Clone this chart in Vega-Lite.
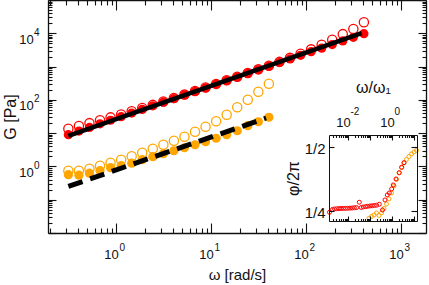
{
  "$schema": "https://vega.github.io/schema/vega-lite/v6.json",
  "width": 378,
  "height": 233,
  "autosize": {"type": "none"},
  "padding": {"left": 48, "top": 0, "right": 3, "bottom": 52},
  "background": "white",
  "config": {
    "view": {"stroke": null},
    "font": "Liberation Sans",
    "text": {"font": "Liberation Sans", "color": "#111"},
    "axis": {"grid": false, "domainColor": "#111", "tickColor": "#111", "labelColor": "#111", "titleColor": "#111", "titleFontWeight": "normal", "labelFont": "Liberation Sans", "titleFont": "Liberation Sans", "domainWidth": 1.3, "tickWidth": 1.1, "labelOverlap": false, "labelFlush": false, "minExtent": 0}
  },
  "datasets": {
    "main": [
      {"w": 0.315, "G": 8.99, "sample": "A", "mod": "storage"},
      {"w": 0.4068, "G": 11.54, "sample": "A", "mod": "storage"},
      {"w": 0.5254, "G": 14.82, "sample": "A", "mod": "storage"},
      {"w": 0.6786, "G": 19.01, "sample": "A", "mod": "storage"},
      {"w": 0.8764, "G": 24.4, "sample": "A", "mod": "storage"},
      {"w": 1.132, "G": 31.3, "sample": "A", "mod": "storage"},
      {"w": 1.462, "G": 40.2, "sample": "A", "mod": "storage"},
      {"w": 1.888, "G": 51.6, "sample": "A", "mod": "storage"},
      {"w": 2.438, "G": 66.2, "sample": "A", "mod": "storage"},
      {"w": 3.15, "G": 84.9, "sample": "A", "mod": "storage"},
      {"w": 4.068, "G": 109, "sample": "A", "mod": "storage"},
      {"w": 5.254, "G": 139.8, "sample": "A", "mod": "storage"},
      {"w": 6.786, "G": 179.5, "sample": "A", "mod": "storage"},
      {"w": 8.764, "G": 230.3, "sample": "A", "mod": "storage"},
      {"w": 11.32, "G": 295.6, "sample": "A", "mod": "storage"},
      {"w": 14.62, "G": 379.3, "sample": "A", "mod": "storage"},
      {"w": 18.88, "G": 486.8, "sample": "A", "mod": "storage"},
      {"w": 24.38, "G": 624.8, "sample": "A", "mod": "storage"},
      {"w": 31.5, "G": 801.7, "sample": "A", "mod": "storage"},
      {"w": 40.68, "G": 1029, "sample": "A", "mod": "storage"},
      {"w": 52.54, "G": 1320, "sample": "A", "mod": "storage"},
      {"w": 67.86, "G": 1694, "sample": "A", "mod": "storage"},
      {"w": 87.64, "G": 2175, "sample": "A", "mod": "storage"},
      {"w": 113.2, "G": 2791, "sample": "A", "mod": "storage"},
      {"w": 146.2, "G": 3581, "sample": "A", "mod": "storage"},
      {"w": 188.8, "G": 4596, "sample": "A", "mod": "storage"},
      {"w": 243.8, "G": 5898, "sample": "A", "mod": "storage"},
      {"w": 315, "G": 7568, "sample": "A", "mod": "storage"},
      {"w": 406.8, "G": 9712, "sample": "A", "mod": "storage"},
      {"w": 0.315, "G": 13.5, "sample": "A", "mod": "loss"},
      {"w": 0.4068, "G": 16.4, "sample": "A", "mod": "loss"},
      {"w": 0.5254, "G": 20.0, "sample": "A", "mod": "loss"},
      {"w": 0.6786, "G": 24.3, "sample": "A", "mod": "loss"},
      {"w": 0.8764, "G": 29.8, "sample": "A", "mod": "loss"},
      {"w": 1.132, "G": 36.6, "sample": "A", "mod": "loss"},
      {"w": 1.462, "G": 45.4, "sample": "A", "mod": "loss"},
      {"w": 1.888, "G": 56.7, "sample": "A", "mod": "loss"},
      {"w": 2.438, "G": 70.8, "sample": "A", "mod": "loss"},
      {"w": 3.15, "G": 89.2, "sample": "A", "mod": "loss"},
      {"w": 4.068, "G": 113.4, "sample": "A", "mod": "loss"},
      {"w": 5.254, "G": 144, "sample": "A", "mod": "loss"},
      {"w": 6.786, "G": 184.9, "sample": "A", "mod": "loss"},
      {"w": 8.764, "G": 234.9, "sample": "A", "mod": "loss"},
      {"w": 11.32, "G": 301.5, "sample": "A", "mod": "loss"},
      {"w": 14.62, "G": 386.9, "sample": "A", "mod": "loss"},
      {"w": 18.88, "G": 496.5, "sample": "A", "mod": "loss"},
      {"w": 24.38, "G": 637.3, "sample": "A", "mod": "loss"},
      {"w": 31.5, "G": 825.8, "sample": "A", "mod": "loss"},
      {"w": 40.68, "G": 1060, "sample": "A", "mod": "loss"},
      {"w": 52.54, "G": 1386, "sample": "A", "mod": "loss"},
      {"w": 67.86, "G": 1830, "sample": "A", "mod": "loss"},
      {"w": 87.64, "G": 2436, "sample": "A", "mod": "loss"},
      {"w": 113.2, "G": 3293, "sample": "A", "mod": "loss"},
      {"w": 146.2, "G": 4512, "sample": "A", "mod": "loss"},
      {"w": 188.8, "G": 6388, "sample": "A", "mod": "loss"},
      {"w": 243.8, "G": 9437, "sample": "A", "mod": "loss"},
      {"w": 315, "G": 13395, "sample": "A", "mod": "loss"},
      {"w": 406.8, "G": 21366, "sample": "A", "mod": "loss"},
      {"w": 0.315, "G": 0.563, "sample": "B", "mod": "storage"},
      {"w": 0.4068, "G": 0.544, "sample": "B", "mod": "storage"},
      {"w": 0.5254, "G": 0.625, "sample": "B", "mod": "storage"},
      {"w": 0.6786, "G": 0.743, "sample": "B", "mod": "storage"},
      {"w": 0.8764, "G": 0.914, "sample": "B", "mod": "storage"},
      {"w": 1.132, "G": 1.05, "sample": "B", "mod": "storage"},
      {"w": 1.462, "G": 1.25, "sample": "B", "mod": "storage"},
      {"w": 1.888, "G": 1.59, "sample": "B", "mod": "storage"},
      {"w": 2.438, "G": 1.96, "sample": "B", "mod": "storage"},
      {"w": 3.15, "G": 2.41, "sample": "B", "mod": "storage"},
      {"w": 4.068, "G": 2.96, "sample": "B", "mod": "storage"},
      {"w": 5.254, "G": 3.64, "sample": "B", "mod": "storage"},
      {"w": 6.786, "G": 4.48, "sample": "B", "mod": "storage"},
      {"w": 8.764, "G": 5.52, "sample": "B", "mod": "storage"},
      {"w": 11.32, "G": 7.03, "sample": "B", "mod": "storage"},
      {"w": 14.62, "G": 8.95, "sample": "B", "mod": "storage"},
      {"w": 18.88, "G": 11.8, "sample": "B", "mod": "storage"},
      {"w": 24.38, "G": 16.7, "sample": "B", "mod": "storage"},
      {"w": 31.5, "G": 22.0, "sample": "B", "mod": "storage"},
      {"w": 40.68, "G": 30.0, "sample": "B", "mod": "storage"},
      {"w": 0.315, "G": 0.743, "sample": "B", "mod": "loss"},
      {"w": 0.4068, "G": 0.743, "sample": "B", "mod": "loss"},
      {"w": 0.5254, "G": 0.853, "sample": "B", "mod": "loss"},
      {"w": 0.6786, "G": 1.05, "sample": "B", "mod": "loss"},
      {"w": 0.8764, "G": 1.29, "sample": "B", "mod": "loss"},
      {"w": 1.132, "G": 1.59, "sample": "B", "mod": "loss"},
      {"w": 1.462, "G": 2.02, "sample": "B", "mod": "loss"},
      {"w": 1.888, "G": 2.58, "sample": "B", "mod": "loss"},
      {"w": 2.438, "G": 3.4, "sample": "B", "mod": "loss"},
      {"w": 3.15, "G": 4.48, "sample": "B", "mod": "loss"},
      {"w": 4.068, "G": 5.91, "sample": "B", "mod": "loss"},
      {"w": 5.254, "G": 7.8, "sample": "B", "mod": "loss"},
      {"w": 6.786, "G": 11.0, "sample": "B", "mod": "loss"},
      {"w": 8.764, "G": 15.6, "sample": "B", "mod": "loss"},
      {"w": 11.32, "G": 22.8, "sample": "B", "mod": "loss"},
      {"w": 14.62, "G": 35.7, "sample": "B", "mod": "loss"},
      {"w": 18.88, "G": 59.9, "sample": "B", "mod": "loss"},
      {"w": 24.38, "G": 100.7, "sample": "B", "mod": "loss"},
      {"w": 31.5, "G": 175, "sample": "B", "mod": "loss"},
      {"w": 40.68, "G": 304, "sample": "B", "mod": "loss"}
    ],
    "fitA": [{"w": 0.315, "G": 8.3}, {"w": 385, "G": 10150}],
    "fitB": [{"w": 0.315, "G": 0.25}, {"w": 38, "G": 28.5}],
    "xexp": [{"w": 1, "e": "0"}, {"w": 10, "e": "1"}, {"w": 100, "e": "2"}, {"w": 1000, "e": "3"}],
    "yexp": [{"G": 1, "e": "0"}, {"G": 100, "e": "2"}, {"G": 10000, "e": "4"}],
    "rexp": [{"r": 0.01, "e": "-2"}, {"r": 1, "e": "0"}],
    "inset": [
      {"r": 0.00144, "phi": 0.245, "sample": "A"},
      {"r": 0.00197, "phi": 0.2558, "sample": "A"},
      {"r": 0.00243, "phi": 0.2578, "sample": "A"},
      {"r": 0.00306, "phi": 0.2586, "sample": "A"},
      {"r": 0.0039, "phi": 0.2593, "sample": "A"},
      {"r": 0.00481, "phi": 0.2597, "sample": "A"},
      {"r": 0.00611, "phi": 0.2601, "sample": "A"},
      {"r": 0.00769, "phi": 0.2601, "sample": "A"},
      {"r": 0.00969, "phi": 0.2605, "sample": "A"},
      {"r": 0.01233, "phi": 0.2609, "sample": "A"},
      {"r": 0.01552, "phi": 0.2617, "sample": "A"},
      {"r": 0.01954, "phi": 0.2625, "sample": "A"},
      {"r": 0.0246, "phi": 0.2632, "sample": "A"},
      {"r": 0.0327, "phi": 0.2839, "sample": "A"},
      {"r": 0.0403, "phi": 0.2636, "sample": "A"},
      {"r": 0.0496, "phi": 0.2656, "sample": "A"},
      {"r": 0.0638, "phi": 0.2671, "sample": "A"},
      {"r": 0.0786, "phi": 0.2683, "sample": "A"},
      {"r": 0.1, "phi": 0.2695, "sample": "A"},
      {"r": 0.126, "phi": 0.2702, "sample": "A"},
      {"r": 0.158, "phi": 0.2714, "sample": "A"},
      {"r": 0.2, "phi": 0.2722, "sample": "A"},
      {"r": 0.265, "phi": 0.2761, "sample": "A"},
      {"r": 0.37, "phi": 0.2539, "sample": "A"},
      {"r": 0.481, "phi": 0.2928, "sample": "A"},
      {"r": 0.611, "phi": 0.3123, "sample": "A"},
      {"r": 0.754, "phi": 0.32, "sample": "A"},
      {"r": 0.968, "phi": 0.3356, "sample": "A"},
      {"r": 1.146, "phi": 0.3512, "sample": "A"},
      {"r": 1.52, "phi": 0.3745, "sample": "A"},
      {"r": 2.15, "phi": 0.399, "sample": "A"},
      {"r": 2.76, "phi": 0.42, "sample": "A"},
      {"r": 3.51, "phi": 0.4379, "sample": "A"},
      {"r": 0.0901, "phi": 0.2216, "sample": "B"},
      {"r": 0.117, "phi": 0.2286, "sample": "B"},
      {"r": 0.152, "phi": 0.2344, "sample": "B"},
      {"r": 0.197, "phi": 0.2422, "sample": "B"},
      {"r": 0.256, "phi": 0.2325, "sample": "B"},
      {"r": 0.333, "phi": 0.2422, "sample": "B"},
      {"r": 0.433, "phi": 0.2597, "sample": "B"},
      {"r": 0.562, "phi": 0.2772, "sample": "B"},
      {"r": 0.731, "phi": 0.2967, "sample": "B"},
      {"r": 0.949, "phi": 0.32, "sample": "B"},
      {"r": 1.233, "phi": 0.3473, "sample": "B"},
      {"r": 1.6, "phi": 0.3726, "sample": "B"},
      {"r": 2.08, "phi": 0.3979, "sample": "B"},
      {"r": 2.7, "phi": 0.4193, "sample": "B"},
      {"r": 3.51, "phi": 0.4368, "sample": "B"},
      {"r": 4.56, "phi": 0.4504, "sample": "B"},
      {"r": 5.93, "phi": 0.4621, "sample": "B"},
      {"r": 7.69, "phi": 0.4718, "sample": "B"},
      {"r": 10, "phi": 0.4796, "sample": "B"},
      {"r": 13, "phi": 0.4854, "sample": "B"}
    ]
  },
  "layer": [
    {
      "layer": [
        {
          "data": {"name": "main"},
          "transform": [{"filter": "datum.mod == 'loss'"}],
          "mark": {"type": "point", "filled": false, "size": 85, "strokeWidth": 1.3, "opacity": 1},
          "encoding": {
            "x": {"field": "w", "type": "quantitative", "scale": {"type": "log", "domain": [0.1923, 1833]},
              "axis": {"orient": "bottom", "values": [0.2,0.3,0.4,0.5,0.6,0.7,0.8,0.9,1,2,3,4,5,6,7,8,9,10,20,30,40,50,60,70,80,90,100,200,300,400,500,600,700,800,900,1000],
                "labelExpr": "(datum.value==1||datum.value==10||datum.value==100||datum.value==1000)?'10':''",
                "tickSize": {"condition": {"test": "abs(log(datum.value)/LN10-round(log(datum.value)/LN10))<0.001", "value": -10}, "value": -5},
                "labelPadding": 35.3, "labelBaseline": "alphabetic", "labelOffset": -5, "labelFontSize": 13,
                "title": "ω [rad/s]", "titleFontSize": 15, "titlePadding": 1}},
            "y": {"field": "G", "type": "quantitative", "scale": {"type": "log", "domain": [0.01, 100000]},
              "axis": {"orient": "left", "values": [0.01,0.02,0.03,0.04,0.05,0.06,0.07,0.08,0.09,0.1,0.2,0.3,0.4,0.5,0.6,0.7,0.8,0.9,1,2,3,4,5,6,7,8,9,10,20,30,40,50,60,70,80,90,100,200,300,400,500,600,700,800,900,1000,2000,3000,4000,5000,6000,7000,8000,9000,10000,20000,30000,40000,50000,60000,70000,80000,90000,100000],
                "labelExpr": "(datum.value==1||datum.value==100||datum.value==10000)?'10':''",
                "tickSize": {"condition": {"test": "abs(log(datum.value)/LN10-round(log(datum.value)/LN10))<0.001", "value": -8}, "value": -4},
                "labelPadding": 22.7, "labelBaseline": "alphabetic", "labelOffset": 10, "labelFontSize": 13,
                "title": "G [Pa]", "titleFontSize": 16, "titlePadding": 0}},
            "color": {"field": "sample", "type": "nominal", "scale": {"domain": ["A", "B"], "range": ["#ff0000", "#ffa500"]}, "legend": null}
          }
        },
        {
          "data": {"name": "main"},
          "transform": [{"filter": "datum.mod == 'storage'"}],
          "mark": {"type": "point", "filled": true, "size": 85, "opacity": 1},
          "encoding": {
            "x": {"field": "w", "type": "quantitative", "scale": {"type": "log", "domain": [0.1923, 1833]}, "axis": null},
            "y": {"field": "G", "type": "quantitative", "scale": {"type": "log", "domain": [0.01, 100000]}, "axis": null},
            "color": {"field": "sample", "type": "nominal", "scale": {"domain": ["A", "B"], "range": ["#ff0000", "#ffa500"]}, "legend": null}
          }
        },
        {
          "data": {"name": "fitA"},
          "mark": {"type": "line", "color": "black", "strokeWidth": 4.5},
          "encoding": {
            "x": {"field": "w", "type": "quantitative", "scale": {"type": "log", "domain": [0.1923, 1833]},
              "axis": {"orient": "top", "values": [0.2,0.3,0.4,0.5,0.6,0.7,0.8,0.9,1,2,3,4,5,6,7,8,9,10,20,30,40,50,60,70,80,90,100,200,300,400,500,600,700,800,900,1000],
                "labels": false, "title": null,
                "tickSize": {"condition": {"test": "abs(log(datum.value)/LN10-round(log(datum.value)/LN10))<0.001", "value": -10}, "value": -5}}},
            "y": {"field": "G", "type": "quantitative", "scale": {"type": "log", "domain": [0.01, 100000]},
              "axis": {"orient": "right", "values": [0.01,0.02,0.03,0.04,0.05,0.06,0.07,0.08,0.09,0.1,0.2,0.3,0.4,0.5,0.6,0.7,0.8,0.9,1,2,3,4,5,6,7,8,9,10,20,30,40,50,60,70,80,90,100,200,300,400,500,600,700,800,900,1000,2000,3000,4000,5000,6000,7000,8000,9000,10000,20000,30000,40000,50000,60000,70000,80000,90000,100000],
                "labels": false, "title": null,
                "tickSize": {"condition": {"test": "abs(log(datum.value)/LN10-round(log(datum.value)/LN10))<0.001", "value": -8}, "value": -4}}}
          }
        },
        {
          "data": {"name": "fitB"},
          "mark": {"type": "line", "color": "black", "strokeWidth": 5, "strokeDash": [15, 8], "strokeCap": "butt"},
          "encoding": {
            "x": {"field": "w", "type": "quantitative", "scale": {"type": "log", "domain": [0.1923, 1833]}, "axis": null},
            "y": {"field": "G", "type": "quantitative", "scale": {"type": "log", "domain": [0.01, 100000]}, "axis": null}
          }
        },
        {
          "data": {"name": "xexp"},
          "mark": {"type": "text", "align": "left", "baseline": "alphabetic", "fontSize": 10, "dx": 3.5, "dy": 17.7},
          "encoding": {
            "x": {"field": "w", "type": "quantitative", "scale": {"type": "log", "domain": [0.1923, 1833]}, "axis": null},
            "y": {"datum": 0.01, "type": "quantitative", "scale": {"type": "log", "domain": [0.01, 100000]}, "axis": null},
            "text": {"field": "e"}
          }
        },
        {
          "data": {"name": "yexp"},
          "mark": {"type": "text", "align": "left", "baseline": "alphabetic", "fontSize": 10, "dx": -14, "dy": 2.6},
          "encoding": {
            "x": {"datum": 0.1923, "type": "quantitative", "scale": {"type": "log", "domain": [0.1923, 1833]}, "axis": null},
            "y": {"field": "G", "type": "quantitative", "scale": {"type": "log", "domain": [0.01, 100000]}, "axis": null},
            "text": {"field": "e"}
          }
        }
      ],
      "resolve": {"axis": {"x": "independent", "y": "independent"}}
    },
    {
      "layer": [
        {
          "mark": {"type": "rect", "fill": "white"},
          "encoding": {
            "x": {"datum": 0.00137, "type": "quantitative", "scale": {"type": "log", "domain": [0.00137, 13.7], "range": [281, 369]}, "axis": null},
            "x2": {"datum": 13.7},
            "y": {"datum": 0.211, "type": "quantitative", "scale": {"type": "linear", "domain": [0.211, 0.5455], "range": [221, 135], "zero": false}, "axis": null},
            "y2": {"datum": 0.5455}
          }
        },
        {
          "data": {"name": "inset"},
          "transform": [{"filter": "datum.sample == 'B'"}],
          "mark": {"type": "point", "filled": false, "size": 16, "strokeWidth": 1, "opacity": 1, "color": "#ffa500"},
          "encoding": {
            "x": {"field": "r", "type": "quantitative", "scale": {"type": "log", "domain": [0.00137, 13.7], "range": [281, 369]},
              "axis": {"orient": "top", "offset": -135, "zindex": 1, "values": [0.002,0.003,0.004,0.005,0.006,0.007,0.008,0.009,0.01,0.02,0.03,0.04,0.05,0.06,0.07,0.08,0.09,0.1,0.2,0.3,0.4,0.5,0.6,0.7,0.8,0.9,1,2,3,4,5,6,7,8,9,10],
                "labelExpr": "(datum.value==0.01||datum.value==1)?'10':''",
                "tickSize": {"condition": {"test": "abs(log(datum.value)/LN10-round(log(datum.value)/LN10))<0.001", "value": -5}, "value": -2.5},
                "labelPadding": 13.3, "labelBaseline": "alphabetic", "labelOffset": -5, "labelFontSize": 13,
                "title": "ω/ω₁", "titleFontSize": 16, "titlePadding": 19, "domainWidth": 1}},
            "y": {"field": "phi", "type": "quantitative", "scale": {"type": "linear", "domain": [0.211, 0.5455], "range": [221, 135], "zero": false},
              "axis": {"orient": "left", "offset": -281, "zindex": 1, "values": [0.25, 0.5],
                "labelExpr": "datum.value==0.25?'1/4':'1/2'", "tickSize": -5, "labelPadding": 9, "labelFontSize": 15, "labelOffset": 1.5,
                "title": "φ/2π", "titleFontSize": 16, "titlePadding": 3, "domainWidth": 1}}
          }
        },
        {
          "data": {"name": "inset"},
          "transform": [{"filter": "datum.sample == 'A'"}],
          "mark": {"type": "point", "filled": false, "size": 16, "strokeWidth": 1, "opacity": 1, "color": "#ff0000"},
          "encoding": {
            "x": {"field": "r", "type": "quantitative", "scale": {"type": "log", "domain": [0.00137, 13.7], "range": [281, 369]},
              "axis": {"orient": "bottom", "offset": -12, "zindex": 1, "values": [0.002,0.003,0.004,0.005,0.006,0.007,0.008,0.009,0.01,0.02,0.03,0.04,0.05,0.06,0.07,0.08,0.09,0.1,0.2,0.3,0.4,0.5,0.6,0.7,0.8,0.9,1,2,3,4,5,6,7,8,9,10],
                "labels": false, "title": null, "domainWidth": 1,
                "tickSize": {"condition": {"test": "abs(log(datum.value)/LN10-round(log(datum.value)/LN10))<0.001", "value": -5}, "value": -2.5}}},
            "y": {"field": "phi", "type": "quantitative", "scale": {"type": "linear", "domain": [0.211, 0.5455], "range": [221, 135], "zero": false},
              "axis": {"orient": "right", "offset": -9, "zindex": 1, "values": [0.25, 0.5], "labels": false, "title": null, "tickSize": -6, "domainWidth": 1}}
          }
        },
        {
          "data": {"name": "rexp"},
          "mark": {"type": "text", "align": "left", "baseline": "alphabetic", "fontSize": 10, "dx": 2.5, "dy": -20},
          "encoding": {
            "x": {"field": "r", "type": "quantitative", "scale": {"type": "log", "domain": [0.00137, 13.7], "range": [281, 369]}, "axis": null},
            "y": {"datum": 0.5455, "type": "quantitative", "scale": {"type": "linear", "domain": [0.211, 0.5455], "range": [221, 135], "zero": false}, "axis": null},
            "text": {"field": "e"}
          }
        }
      ],
      "resolve": {"axis": {"x": "independent", "y": "independent"}}
    }
  ],
  "resolve": {"scale": {"x": "independent", "y": "independent"}}
}
